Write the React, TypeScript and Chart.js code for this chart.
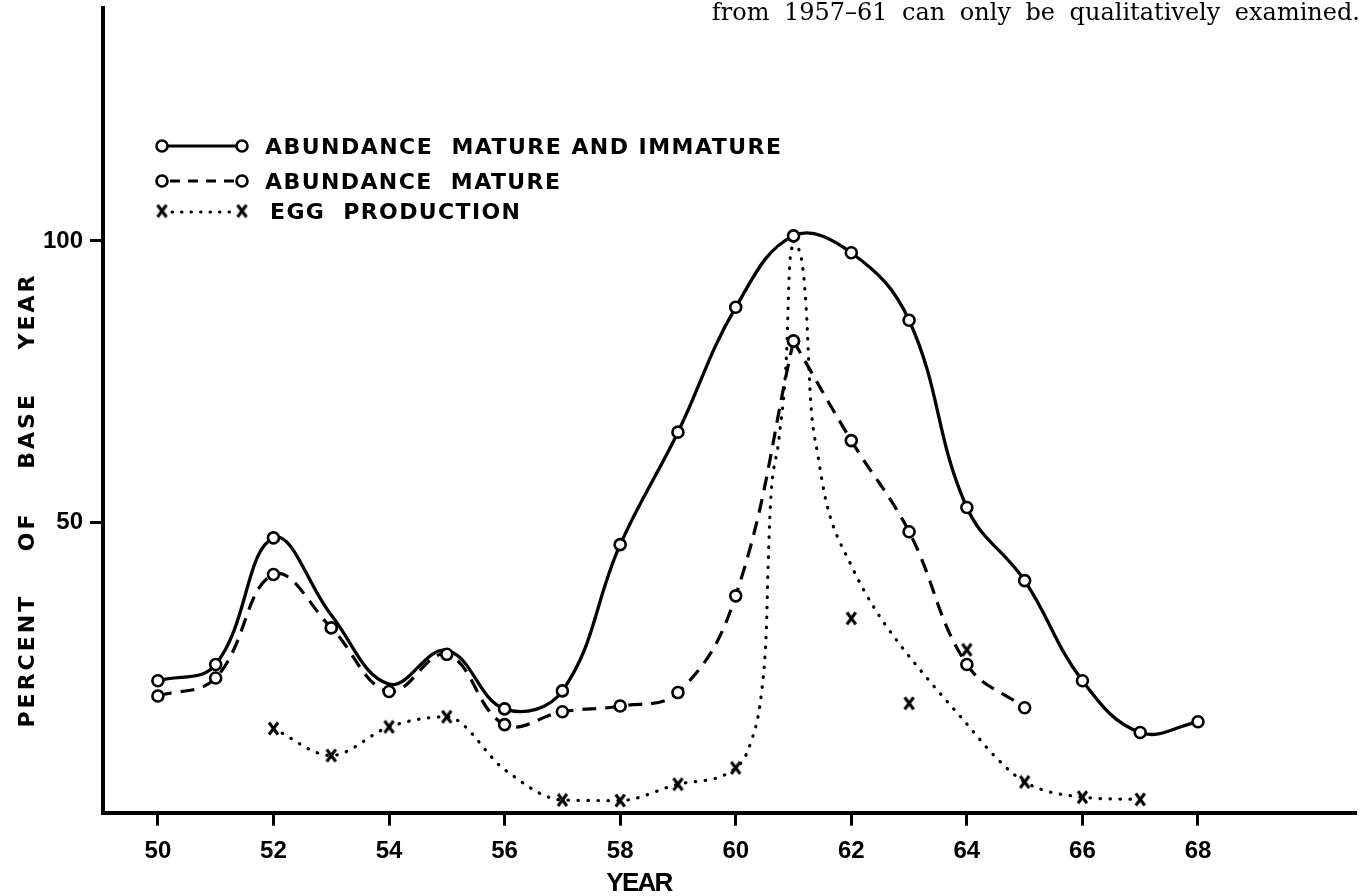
import React, { useEffect, useRef } from "react";
import { Chart, registerables } from "chart.js";

Chart.register(...registerables);

// ---- data ----
const years = [50, 51, 52, 53, 54, 55, 56, 57, 58, 59, 60, 61, 62, 63, 64, 65, 66, 67, 68];
const abundanceMatureAndImmature = [21.8, 24.7, 47.2, 33.5, 21.2, 27.2, 16.8, 20.0, 46.0, 66.0, 88.2, 100.9, 97.9, 85.9, 52.6, 39.6, 21.8, 12.6, 14.5];
const matureYears = [50, 51, 52, 53, 54, 55, 56, 57, 58, 59, 60, 61, 62, 63, 64, 65];
const abundanceMature = [19.1, 22.3, 40.7, 31.2, 19.9, 26.5, 14.0, 16.3, 17.3, 19.7, 36.9, 82.2, 64.5, 48.3, 24.7, 17.0];
const eggYears = [52, 53, 54, 55, 57, 58, 59, 60, 62, 63, 64, 65, 66, 67];
const eggProduction = [13.3, 8.5, 13.6, 15.4, 0.6, 0.5, 3.4, 6.3, 32.9, 17.8, 27.3, 3.8, 1.1, 0.7];
// dotted trend curve drawn through the egg production marks
const eggCurveYears = [52, 53, 54, 55, 56, 57, 58, 59, 60, 60.25, 60.45, 60.53, 60.56, 60.6, 60.75, 60.88, 60.93, 61, 61.15, 61.22, 61.3, 61.42, 61.58, 62, 62.4, 62.8, 63.35, 63.95, 64.5, 65, 66, 67];
const eggCurveValues = [13.3, 8.5, 13.6, 15.4, 6.0, 0.6, 0.5, 3.4, 6.3, 10.5, 20, 31, 42, 53, 65, 80, 95, 100, 96, 88, 71, 62, 53, 42.3, 34.7, 28.8, 21.8, 14.7, 8.2, 3.8, 1.1, 0.7];
const peakYear = 61;
const solidMarkerHiddenYears = [53, 54, 55];

const xTickYears = [50, 52, 54, 56, 58, 60, 62, 64, 66, 68];
const yTickValues = [50, 100];

const seriesLabels = ["ABUNDANCE  MATURE AND IMMATURE", "ABUNDANCE  MATURE", "EGG  PRODUCTION"];
const xAxisTitle = "YEAR";
const yAxisTitle = "PERCENT OF BASE YEAR";
const noteText = "from 1957\u201361 can only be qualitatively examined.";
const noteTail = "\u201361 can only be qualitatively examined.";

const FONT_LETTER = "'DejaVu Sans', sans-serif";
const FONT_DIGIT = "'Liberation Sans', Arial, sans-serif";

function zip(xs: number[], ys: number[]) {
  return xs.map((x, i) => ({ x, y: ys[i] }));
}

function makeXMark(): HTMLCanvasElement {
  const c = document.createElement("canvas");
  c.width = 13;
  c.height = 15;
  const g = c.getContext("2d")!;
  g.strokeStyle = "#000";
  g.lineWidth = 3;
  g.beginPath();
  g.moveTo(2, 1.5);
  g.lineTo(11, 13.5);
  g.moveTo(11, 1.5);
  g.lineTo(2, 13.5);
  g.stroke();
  return c;
}

function fitText(ctx: CanvasRenderingContext2D, text: string, x: number, y: number, target: number) {
  (ctx as any).letterSpacing = "0px";
  const w = ctx.measureText(text).width;
  const ls = (target - w) / Math.max(1, text.length - 1);
  (ctx as any).letterSpacing = `${ls}px`;
  ctx.fillText(text, x, y);
  (ctx as any).letterSpacing = "0px";
}

function fitWords(ctx: CanvasRenderingContext2D, text: string, x: number, y: number, target: number, ls: number) {
  (ctx as any).letterSpacing = `${ls}px`;
  (ctx as any).wordSpacing = "0px";
  const w = ctx.measureText(text).width;
  const spaces = text.split(" ").length - 1;
  const ws = Math.max(0, (target - w) / Math.max(1, spaces));
  (ctx as any).wordSpacing = `${ws}px`;
  ctx.fillText(text, x, y);
  (ctx as any).wordSpacing = "0px";
  (ctx as any).letterSpacing = "0px";
}

function drawCircle(ctx: CanvasRenderingContext2D, x: number, y: number) {
  ctx.save();
  ctx.setLineDash([]);
  ctx.beginPath();
  ctx.arc(x, y, 5.5, 0, Math.PI * 2);
  ctx.fillStyle = "#fff";
  ctx.fill();
  ctx.lineWidth = 2.6;
  ctx.strokeStyle = "#000";
  ctx.stroke();
  ctx.restore();
}

function makePaperPlugin(xMark: HTMLCanvasElement) {
  return {
    id: "paperText",
    afterDraw(chart: any) {
      const ctx: CanvasRenderingContext2D = chart.ctx;
      ctx.save();
      ctx.fillStyle = "#000";
      ctx.strokeStyle = "#000";

      // legend
      const rows = [
        { y: 146, tx: 265, w: 516, kind: "solid", label: seriesLabels[0] },
        { y: 181, tx: 265, w: 295, kind: "dashed", label: seriesLabels[1] },
        { y: 211, tx: 270, w: 250, kind: "dotted", label: seriesLabels[2] },
      ];
      const x1 = 162;
      const x2 = 242;
      rows.forEach((r) => {
        ctx.save();
        ctx.lineWidth = 3;
        ctx.beginPath();
        if (r.kind === "solid") {
          ctx.setLineDash([]);
          ctx.moveTo(x1, r.y);
          ctx.lineTo(x2, r.y);
          ctx.stroke();
          drawCircle(ctx, x1, r.y);
          drawCircle(ctx, x2, r.y);
        } else if (r.kind === "dashed") {
          ctx.setLineDash([10, 8]);
          ctx.moveTo(x1 + 8, r.y);
          ctx.lineTo(x2 - 6, r.y);
          ctx.stroke();
          drawCircle(ctx, x1, r.y);
          drawCircle(ctx, x2, r.y);
        } else {
          ctx.setLineDash([0.5, 9]);
          ctx.lineCap = "round";
          ctx.lineWidth = 3;
          ctx.moveTo(x1 + 10, r.y + 1);
          ctx.lineTo(x2 - 8, r.y + 1);
          ctx.stroke();
          ctx.drawImage(xMark, x1 - xMark.width / 2, r.y - xMark.height / 2);
          ctx.drawImage(xMark, x2 - xMark.width / 2, r.y - xMark.height / 2);
        }
        ctx.restore();
        ctx.font = `bold 22px ${FONT_LETTER}`;
        ctx.textAlign = "left";
        ctx.textBaseline = "alphabetic";
        fitText(ctx, r.label, r.tx, r.y + 8, r.w);
      });

      // y axis title
      ctx.save();
      ctx.translate(26, 500);
      ctx.rotate(-Math.PI / 2);
      ctx.font = `bold 22px ${FONT_LETTER}`;
      ctx.textAlign = "center";
      ctx.textBaseline = "alphabetic";
      fitWords(ctx, yAxisTitle, 0, 8, 455, 3);
      ctx.restore();

      // x axis title
      ctx.font = `bold 26px ${FONT_DIGIT}`;
      ctx.textAlign = "center";
      ctx.textBaseline = "alphabetic";
      fitText(ctx, xAxisTitle, 639, 891, 67);

      // running text at top right (from the page)
      ctx.font = `24px 'DejaVu Serif', serif`;
      ctx.textAlign = "right";
      ctx.textBaseline = "alphabetic";
      (ctx as any).wordSpacing = "0px";
      const natural = ctx.measureText(noteTail).width;
      const spaces = noteTail.split(" ").length - 1;
      const ws = Math.max(0, (515 - natural) / spaces);
      (ctx as any).wordSpacing = `${ws}px`;
      ctx.fillText(noteText, 1360, 20);
      (ctx as any).wordSpacing = "0px";

      ctx.restore();
    },
  };
}

export default function App() {
  const ref = useRef<HTMLCanvasElement | null>(null);

  useEffect(() => {
    if (!ref.current) return;
    const xMark = makeXMark();
    const solidPts = zip(years, abundanceMatureAndImmature);
    const maturePts = zip(matureYears, abundanceMature);
    const eggPts = zip(eggYears, eggProduction);
    const eggCurve = zip(eggCurveYears, eggCurveValues);

    const circleStyle = {
      pointStyle: "circle",
      pointBackgroundColor: "#fff",
      pointBorderColor: "#000",
      pointBorderWidth: 2.6,
      pointRadius: 5.5,
    };

    const chart = new Chart(ref.current, {
      type: "line",
      data: {
        datasets: [
          {
            label: seriesLabels[1],
            data: maturePts.filter((p) => p.x <= peakYear),
            borderColor: "#000",
            borderWidth: 3.2,
            borderDash: [14, 9],
            tension: 0.4,
            ...circleStyle,
          } as any,
          {
            label: seriesLabels[1] + " (after peak)",
            data: maturePts.filter((p) => p.x >= peakYear),
            borderColor: "#000",
            borderWidth: 3.2,
            borderDash: [14, 9],
            tension: 0.4,
            ...circleStyle,
          } as any,
          {
            label: seriesLabels[0],
            data: solidPts,
            borderColor: "#000",
            borderWidth: 3.3,
            tension: 0.4,
            ...circleStyle,
            pointRadius: (c: any) =>
              solidMarkerHiddenYears.includes(solidPts[c.dataIndex]?.x) ? 0 : 5.5,
          } as any,
          {
            label: seriesLabels[2],
            data: eggPts,
            showLine: false,
            pointStyle: xMark,
            pointRadius: 7,
          } as any,
          {
            label: seriesLabels[2] + " curve",
            data: eggCurve.filter((p) => p.x <= peakYear),
            borderColor: "#000",
            borderWidth: 3.2,
            borderDash: [0.5, 9.5],
            borderCapStyle: "round",
            cubicInterpolationMode: "monotone",
            pointRadius: 0,
          } as any,
          {
            label: seriesLabels[2] + " curve (after peak)",
            data: eggCurve.filter((p) => p.x >= peakYear),
            borderColor: "#000",
            borderWidth: 3.2,
            borderDash: [0.5, 9.5],
            borderCapStyle: "round",
            cubicInterpolationMode: "monotone",
            pointRadius: 0,
          } as any,
        ],
      },
      options: {
        animation: false,
        responsive: false,
        events: [],
        layout: { padding: { top: 2, right: 3, left: 0, bottom: 0 } },
        plugins: {
          legend: { display: false },
          tooltip: { enabled: false },
        },
        scales: {
          x: {
            type: "linear",
            min: 49.05,
            max: 70.75,
            afterBuildTicks: (s: any) => {
              s.ticks = xTickYears.map((v) => ({ value: v }));
            },
            afterFit: (s: any) => {
              s.height = 83.3;
              s.paddingLeft = 0;
              s.paddingRight = 0;
            },
            grid: {
              drawOnChartArea: false,
              drawTicks: true,
              tickLength: 13,
              tickWidth: 3,
              tickColor: "#000",
            },
            border: { display: true, color: "#000", width: 4 },
            ticks: {
              color: "#000",
              font: { family: FONT_DIGIT, size: 24, weight: "bold" },
              padding: 11,
              maxRotation: 0,
              autoSkip: false,
              callback: (v: any) => String(v),
            },
          },
          y: {
            type: "linear",
            min: -1.66,
            max: 141.4,
            afterBuildTicks: (s: any) => {
              s.ticks = yTickValues.map((v) => ({ value: v }));
            },
            afterFit: (s: any) => {
              s.width = 103;
              s.paddingTop = 0;
              s.paddingBottom = 0;
            },
            grid: {
              drawOnChartArea: false,
              drawTicks: true,
              tickLength: 13,
              tickWidth: 3,
              tickColor: "#000",
            },
            border: { display: true, color: "#000", width: 4 },
            ticks: {
              color: "#000",
              font: { family: FONT_DIGIT, size: 24, weight: "bold" },
              padding: 7,
              autoSkip: false,
              callback: (v: any) => String(v),
            },
          },
        },
      } as any,
      plugins: [makePaperPlugin(xMark) as any],
    });
    return () => chart.destroy();
  }, []);

  return (
    <div style={{ position: "absolute", left: 0, top: 0, width: 1365, height: 896, background: "#fff" }}>
      <canvas ref={ref} width={1365} height={896} style={{ display: "block" }} />
    </div>
  );
}
